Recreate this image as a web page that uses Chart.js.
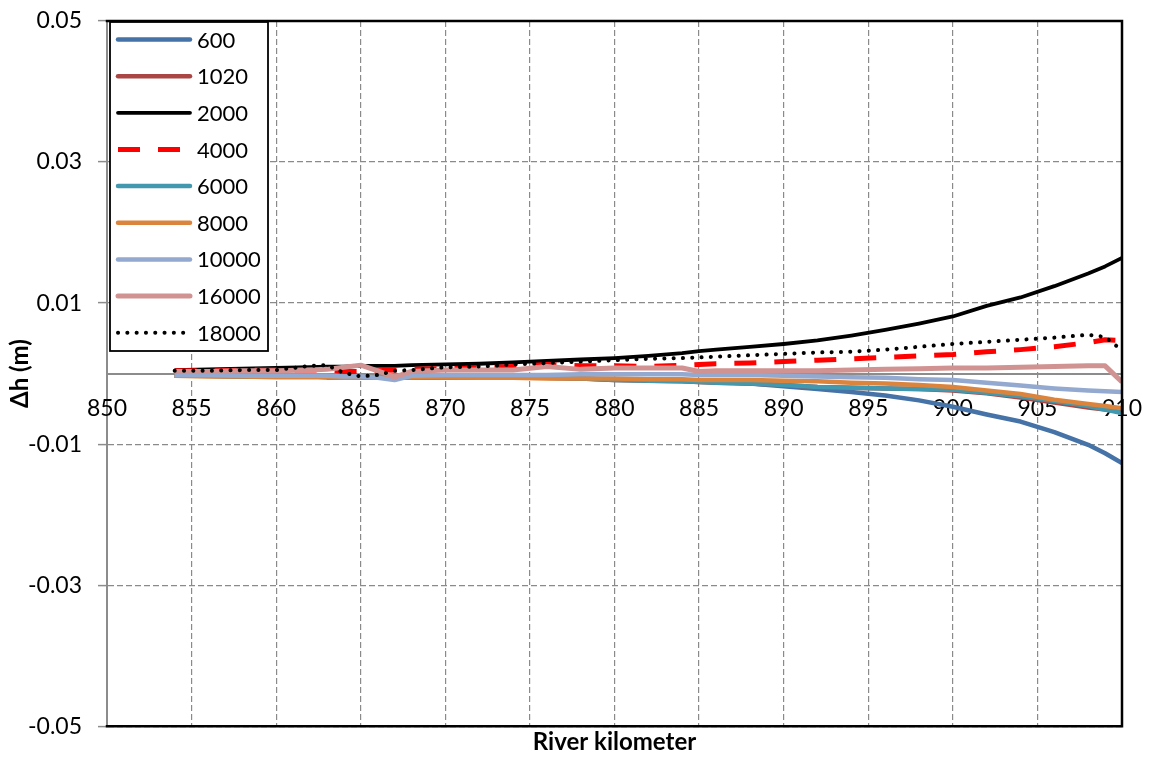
<!DOCTYPE html>
<html>
<head>
<meta charset="utf-8">
<script src="https://cdn.jsdelivr.net/npm/chart.js@4/dist/chart.umd.min.js"></script>
<style>
  html, body { margin: 0; padding: 0; background: #ffffff; }
  #wrap { width: 1156px; height: 758px; }
</style>
</head>
<body>
<div id="wrap"><canvas id="c" width="1156" height="758"></canvas></div>
<script>
// River kilometre stations
const km = [854, 856, 858, 860, 862, 863, 864, 865, 866, 867, 868, 870, 872, 874, 876, 878, 880,
            882, 884, 885, 886, 888, 890, 892, 894, 896, 898, 900, 902, 904, 906, 908, 909, 910];

// Water level difference Δh (m) per discharge scenario
const s600   = [-0.0003,-0.0003,-0.0004,-0.0004,-0.0004,-0.0005,-0.0005,-0.0005,-0.0006,-0.0006,-0.0006,-0.0005,-0.0005,-0.0006,-0.0006,-0.0007,-0.0008,
                -0.0009,-0.0010,-0.0011,-0.0012,-0.0014,-0.0018,-0.0022,-0.0026,-0.0031,-0.0038,-0.0047,-0.0058,-0.0068,-0.0083,-0.0101,-0.0113,-0.0127];
const s1020  = [-0.0003,-0.0003,-0.0004,-0.0004,-0.0004,-0.0005,-0.0005,-0.0005,-0.0006,-0.0006,-0.0006,-0.0005,-0.0005,-0.0006,-0.0006,-0.0007,-0.0009,
                -0.0010,-0.0011,-0.0012,-0.0013,-0.0014,-0.0016,-0.0019,-0.0020,-0.0021,-0.0022,-0.0024,-0.0028,-0.0034,-0.0041,-0.0048,-0.0051,-0.0054];
const s2000  = [0.0005,0.0006,0.0007,0.0008,0.0009,0.0010,0.0010,0.0011,0.0011,0.0011,0.0012,0.0013,0.0014,0.0016,0.0018,0.0020,0.0022,
                0.0025,0.0029,0.0032,0.0034,0.0038,0.0042,0.0047,0.0054,0.0062,0.0071,0.0081,0.0096,0.0108,0.0124,0.0142,0.0152,0.0164];
const s4000  = [0.0004,0.0004,0.0005,0.0005,0.0005,0.0005,0.0003,0.0003,0.0004,0.0005,0.0006,0.0007,0.0008,0.0010,0.0013,0.0011,0.0011,
                0.0010,0.0012,0.0013,0.0014,0.0015,0.0017,0.0019,0.0021,0.0023,0.0025,0.0027,0.0031,0.0034,0.0038,0.0044,0.0048,0.0047];
const s6000  = [-0.0003,-0.0003,-0.0004,-0.0004,-0.0004,-0.0005,-0.0005,-0.0005,-0.0006,-0.0006,-0.0006,-0.0005,-0.0005,-0.0006,-0.0006,-0.0007,-0.0009,
                -0.0010,-0.0011,-0.0012,-0.0013,-0.0014,-0.0016,-0.0019,-0.0020,-0.0021,-0.0022,-0.0023,-0.0027,-0.0032,-0.0039,-0.0046,-0.0051,-0.0056];
const s8000  = [-0.0003,-0.0004,-0.0004,-0.0005,-0.0005,-0.0005,-0.0006,-0.0006,-0.0006,-0.0006,-0.0005,-0.0005,-0.0006,-0.0006,-0.0007,-0.0007,-0.0007,
                -0.0008,-0.0008,-0.0009,-0.0009,-0.0009,-0.0010,-0.0011,-0.0013,-0.0014,-0.0016,-0.0019,-0.0024,-0.0029,-0.0037,-0.0043,-0.0046,-0.0049];
const s10000 = [-0.0002,-0.0002,-0.0003,-0.0003,-0.0003,-0.0003,-0.0004,-0.0004,-0.0006,-0.0009,-0.0003,-0.0002,-0.0002,-0.0002,-0.0002,-0.0001,-0.0001,
                -0.0001,-0.0001,-0.0002,-0.0002,-0.0002,-0.0003,-0.0004,-0.0005,-0.0006,-0.0008,-0.0009,-0.0013,-0.0017,-0.0021,-0.0024,-0.0025,-0.0026];
const s16000 = [0.0003,0.0003,0.0004,0.0004,0.0005,0.0006,0.0009,0.0012,0.0004,-0.0005,0.0003,0.0005,0.0005,0.0005,0.0010,0.0006,0.0008,
                0.0008,0.0008,0.0003,0.0004,0.0004,0.0004,0.0004,0.0005,0.0006,0.0007,0.0008,0.0008,0.0009,0.0010,0.0011,0.0011,-0.0012];
const s18000 = [0.0004,0.0004,0.0005,0.0005,0.0011,0.0012,0.0001,-0.0004,-0.0002,0.0004,0.0005,0.0009,0.0010,0.0013,0.0015,0.0017,0.0019,
                0.0021,0.0022,0.0023,0.0024,0.0026,0.0028,0.0030,0.0031,0.0034,0.0038,0.0042,0.0045,0.0048,0.0051,0.0055,0.0052,0.0033];

const seriesNames = ['600', '1020', '2000', '4000', '6000', '8000', '10000', '16000', '18000'];
const seriesValues = [s600, s1020, s2000, s4000, s6000, s8000, s10000, s16000, s18000];

// Axis ticks
const xMin = 850, xMax = 910, xStep = 5;
const yTicks = [-0.05, -0.03, -0.01, 0.01, 0.03, 0.05];

// Line styles per series
const styles = [
  { color: '#4572A7', width: 4.5, dash: [] },
  { color: '#AA4643', width: 4.5, dash: [] },
  { color: '#000000', width: 3.8, dash: [] },
  { color: '#FF0000', width: 5,   dash: [22, 18] },
  { color: '#4198AF', width: 4.5, dash: [] },
  { color: '#DB843D', width: 4.5, dash: [] },
  { color: '#93A9CF', width: 4.5, dash: [] },
  { color: '#D19392', width: 5,   dash: [] },
  { color: '#000000', width: 4,   dash: [0.1, 9.2], cap: 'round' }
];

const FONT = "Lato, 'Open Sans', 'DejaVu Sans', sans-serif";
const GRID = '#8a8a8a';

const datasets = seriesNames.map((name, i) => ({
  label: name,
  data: km.map((x, j) => ({ x: x, y: seriesValues[i][j] })),
  borderColor: styles[i].color,
  backgroundColor: styles[i].color,
  borderWidth: styles[i].width,
  borderDash: styles[i].dash,
  borderCapStyle: styles[i].cap || 'butt',
  borderJoinStyle: 'round',
  pointRadius: 0,
  tension: 0,
  fill: false,
  // later series are painted over earlier ones
  order: seriesNames.length - 1 - i
}));

// Kilometre labels written just below the zero line
const zeroLineLabels = {
  id: 'zeroLineLabels',
  beforeDatasetsDraw(chart) {
    const { ctx, scales: { x, y } } = chart;
    const y0 = y.getPixelForValue(0) + 35;
    ctx.save();
    ctx.fillStyle = '#000';
    ctx.font = '23px ' + FONT;
    ctx.textAlign = 'center';
    ctx.textBaseline = 'middle';
    x.ticks.forEach(t => ctx.fillText(String(t.value), x.getPixelForValue(t.value), y0));
    ctx.restore();
  }
};

// Black frame on top, right and bottom of the plot area
const frame = {
  id: 'frame',
  afterDatasetsDraw(chart) {
    const { ctx, chartArea: a } = chart;
    ctx.save();
    ctx.strokeStyle = '#000';
    ctx.lineWidth = 2.5;
    ctx.lineCap = 'square';
    ctx.beginPath();
    ctx.moveTo(a.left, a.top);
    ctx.lineTo(a.right, a.top);
    ctx.lineTo(a.right, a.bottom);
    ctx.lineTo(a.left, a.bottom);
    ctx.stroke();
    ctx.restore();
  }
};

// Boxed legend in the upper-left corner of the plot
const boxLegend = {
  id: 'boxLegend',
  afterDraw(chart) {
    const { ctx, chartArea: a } = chart;
    const x0 = a.left + 3, y0 = a.top + 1, w = 158, h = 329;
    ctx.save();
    ctx.fillStyle = '#fff';
    ctx.fillRect(x0, y0, w, h);
    ctx.strokeStyle = '#000';
    ctx.lineWidth = 1.8;
    ctx.strokeRect(x0, y0, w, h);
    chart.data.datasets.forEach((ds, i) => {
      const y = y0 + 17.5 + i * 36.65;
      ctx.beginPath();
      ctx.strokeStyle = ds.borderColor;
      ctx.lineWidth = ds.borderWidth;
      ctx.setLineDash(ds.borderDash || []);
      ctx.lineCap = (ds.borderDash && ds.borderDash.length) ? ds.borderCapStyle : 'round';
      ctx.moveTo(x0 + 8, y);
      ctx.lineTo(x0 + 80, y);
      ctx.stroke();
      ctx.setLineDash([]);
      ctx.fillStyle = '#000';
      ctx.font = '22px ' + FONT;
      ctx.textBaseline = 'middle';
      ctx.textAlign = 'left';
      ctx.fillText(ds.label, x0 + 87, y + 1);
    });
    ctx.restore();
  }
};

new Chart(document.getElementById('c'), {
  type: 'line',
  data: { datasets },
  plugins: [zeroLineLabels, frame, boxLegend],
  options: {
    responsive: false,
    animation: false,
    devicePixelRatio: 1,
    layout: { padding: { left: 0, top: 21, right: 34, bottom: 0 } },
    plugins: {
      legend: { display: false },
      tooltip: { enabled: false },
      title: {
        display: true,
        text: 'River kilometer',
        position: 'bottom',
        fullSize: false,
        color: '#000',
        font: { family: FONT, size: 24, weight: 'bold' },
        padding: { top: 2, bottom: 1 }
      }
    },
    scales: {
      x: {
        type: 'linear',
        position: { y: 0 },
        min: xMin,
        max: xMax,
        afterFit(scale) { scale.paddingLeft = 0; scale.paddingRight = 0; },
        ticks: {
          stepSize: xStep,
          display: false,
          autoSkip: false
        },
        grid: {
          color: GRID,
          lineWidth: 1.2,
          drawTicks: false
        },
        border: { display: true, color: '#8c8c8c', width: 2, dash: [6, 3] }
      },
      y: {
        type: 'linear',
        position: 'left',
        min: -0.05,
        max: 0.05,
        afterBuildTicks(scale) { scale.ticks = yTicks.map(v => ({ value: v })); },
        afterFit(scale) { scale.width = 107; scale.paddingTop = 0; scale.paddingBottom = 0; },
        ticks: {
          color: '#000',
          font: { family: FONT, size: 23 },
          padding: 16,
          callback: v => v.toFixed(2)
        },
        grid: {
          color: GRID,
          lineWidth: 1.2,
          drawTicks: true,
          tickLength: 9,
          tickColor: '#8c8c8c',
          tickWidth: 1.5,
          tickBorderDash: []
        },
        border: { display: true, color: '#8c8c8c', width: 2, dash: [6, 3] },
        title: {
          display: true,
          text: 'Δh (m)',
          color: '#000',
          font: { family: FONT, size: 24, weight: 'bold' },
          padding: { top: 6, bottom: 0 }
        }
      }
    }
  }
});
</script>
</body>
</html>
